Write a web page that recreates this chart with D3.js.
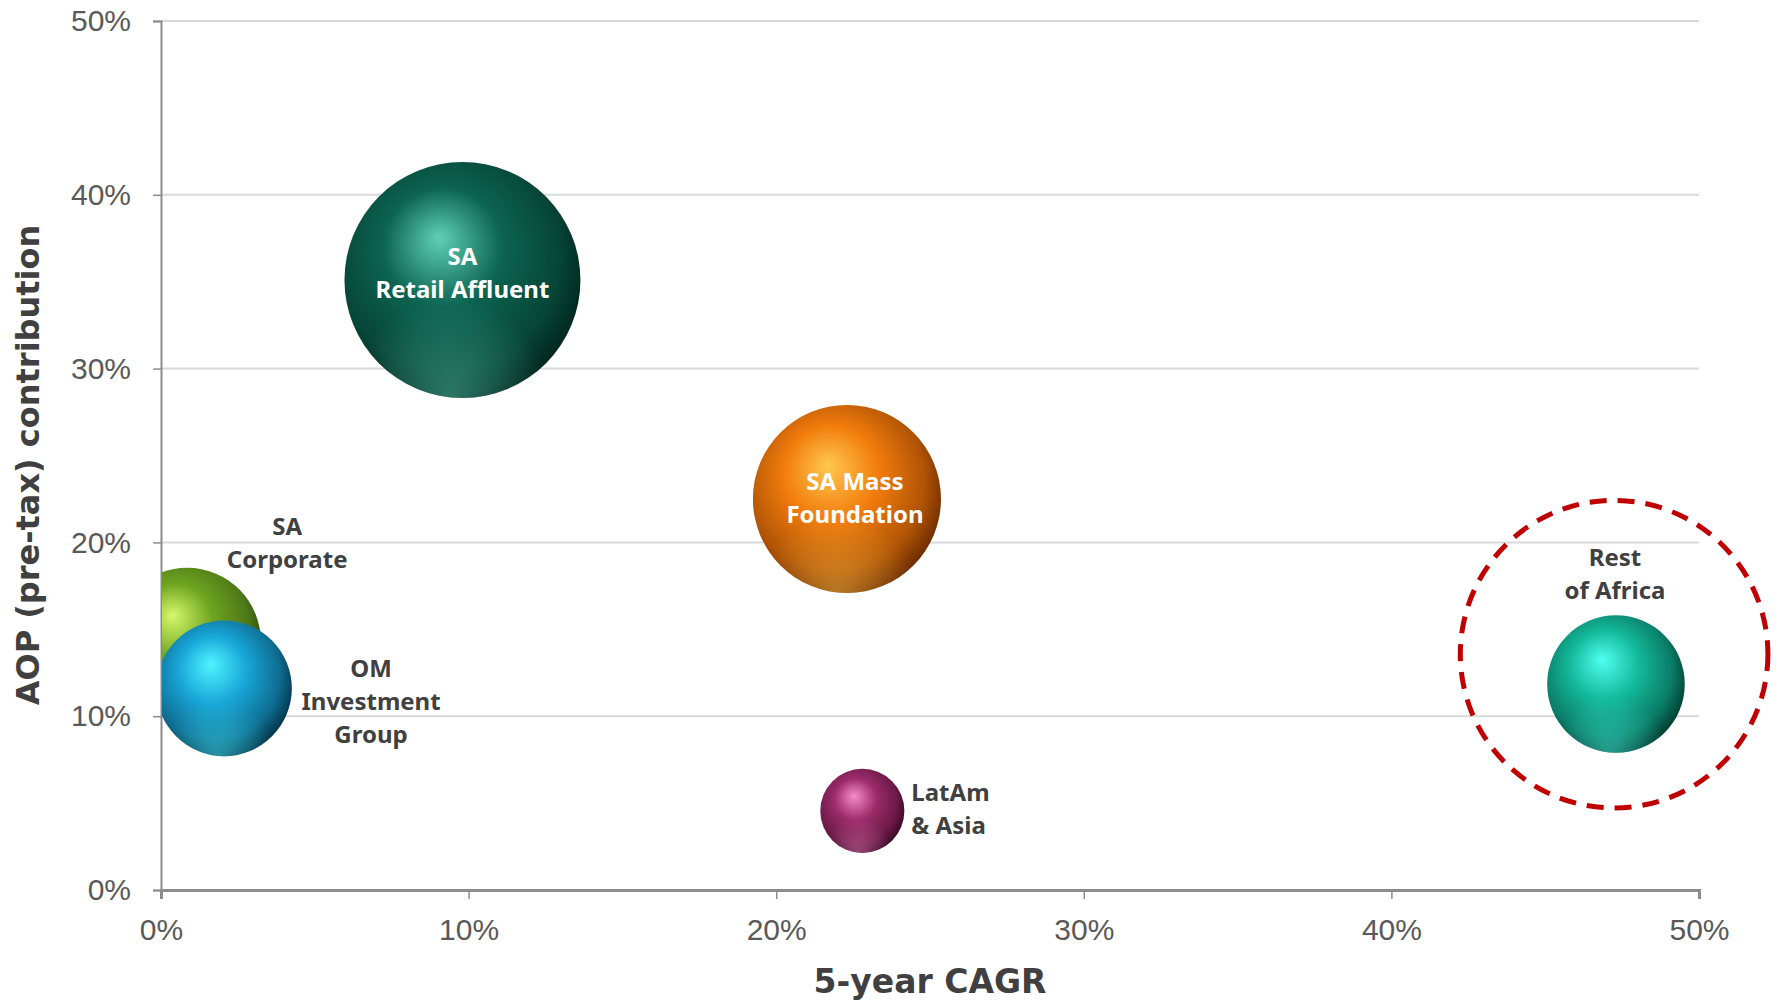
<!DOCTYPE html>
<html>
<head>
<meta charset="utf-8">
<script src="https://cdn.jsdelivr.net/npm/d3@7"></script>
<style>
  html, body { margin: 0; padding: 0; background: #fff; }
  svg { display: block; }
</style>
</head>
<body>
<div id="chart"></div>
<script>
// chart data
var segments = ["SA Retail Affluent", "SA Mass Foundation", "SA Corporate", "OM Investment Group", "LatAm & Asia", "Rest of Africa"];
var cagr = [9.8, 22.3, 0.85, 2.05, 22.8, 47.3];          // 5-year CAGR (%)
var aopShare = [35.1, 22.5, 14.3, 11.6, 4.55, 11.85];    // AOP (pre-tax) contribution (%)
var bubbleSize = [100, 63.5, 39, 33, 12.7, 34];
var labelLines = [["SA", "Retail Affluent"], ["SA Mass", "Foundation"], ["SA", "Corporate"],
                  ["OM", "Investment", "Group"], ["LatAm", "& Asia"], ["Rest", "of Africa"]];
var xTicks = [0, 10, 20, 30, 40, 50];
var yTicks = [0, 10, 20, 30, 40, 50];
// dashed ring around Rest of Africa (centre in data units, radius in x units)
var ringCentre = [47.24, 13.57];
var ringRadius = 5.0;

// styling
var sphereColors = [
    {light: "#5fd0b6", base: "#0c6451", dark: "#01261d"},
    {light: "#ffc84e", base: "#f27c0c", dark: "#6e2c00"},
    {light: "#d6f86a", base: "#6fa521", dark: "#2c4c0c"},
    {light: "#4ff4ff", base: "#18a6d8", dark: "#03344a"},
    {light: "#f58bc8", base: "#9c2b6a", dark: "#3a0826"},
    {light: "#4ffff0", base: "#13b99b", dark: "#013d31"}
];
// label placement relative to bubble centre (px): dx, dy of first line, anchor, colour
var labelPlace = [
    {dx: 0, dy: -23, anchor: "middle", fill: "#ffffff"},
    {dx: 8, dy: -17, anchor: "middle", fill: "#ffffff"},
    {dx: 100, dy: -115, anchor: "middle", fill: "#404040"},
    {dx: 147, dy: -20, anchor: "middle", fill: "#404040"},
    {dx: 49, dy: -18, anchor: "start", fill: "#404040"},
    {dx: -1, dy: -126, anchor: "middle", fill: "#404040"}
];

var W = 1778, H = 1005;
var margin = {top: 21, right: 79, bottom: 115, left: 161},
    width = W - margin.left - margin.right,
    height = H - margin.top - margin.bottom;

var svg = d3.select("#chart").append("svg")
    .attr("width", W)
    .attr("height", H);

var defs = svg.append("defs");

var g = svg.append("g")
    .attr("transform", "translate(" + margin.left + "," + margin.top + ")");

var x = d3.scaleLinear().domain([0, 50]).range([0, width]);
var y = d3.scaleLinear().domain([0, 50]).range([height, 0]);
var r = d3.scaleSqrt().domain([0, d3.max(bubbleSize)]).range([0, 118]);

var tickFont = "'Liberation Sans', Arial, sans-serif";

// gridlines
g.append("g")
    .selectAll("line")
    .data(yTicks.filter(function(d) { return d > 0; }))
    .enter().append("line")
    .attr("x1", 0)
    .attr("x2", width)
    .attr("y1", function(d) { return y(d); })
    .attr("y2", function(d) { return y(d); })
    .attr("stroke", "#d9d9d9")
    .attr("stroke-width", 2);

// y axis
var yAxis = g.append("g")
    .call(d3.axisLeft(y).tickValues(yTicks).tickSize(8).tickPadding(22)
        .tickFormat(function(d) { return d + "%"; }));
yAxis.select(".domain").attr("stroke", "#8c8c8c").attr("stroke-width", 2);
yAxis.selectAll(".tick line").attr("stroke", "#8c8c8c").attr("stroke-width", 1.5);
yAxis.selectAll("text")
    .attr("fill", "#595959")
    .style("font-family", tickFont)
    .style("font-size", "30px");

// x axis
var xAxis = g.append("g")
    .attr("transform", "translate(0," + height + ")")
    .call(d3.axisBottom(x).tickValues(xTicks).tickSize(9).tickPadding(20)
        .tickFormat(function(d) { return d + "%"; }));
xAxis.select(".domain").attr("stroke", "#8c8c8c").attr("stroke-width", 3);
xAxis.selectAll(".tick line").attr("stroke", "#8c8c8c").attr("stroke-width", 1.5);
xAxis.selectAll("text")
    .attr("fill", "#595959")
    .style("font-family", tickFont)
    .style("font-size", "30px");

// axis titles
svg.append("text")
    .attr("x", margin.left + width / 2)
    .attr("y", 981)
    .attr("dy", "0.35em")
    .attr("text-anchor", "middle")
    .attr("fill", "#404040")
    .style("font-family", "'DejaVu Sans', sans-serif")
    .style("font-weight", "bold")
    .style("font-size", "33px")
    .text("5-year CAGR");

svg.append("text")
    .attr("transform", "translate(28,465) rotate(-90)")
    .attr("dy", "0.35em")
    .attr("text-anchor", "middle")
    .attr("fill", "#404040")
    .style("font-family", "'DejaVu Sans', sans-serif")
    .style("font-weight", "bold")
    .style("font-size", "32px")
    .text("AOP (pre-tax) contribution");

// sphere gradients: body shading plus a faint coloured reflection along the lower rim
sphereColors.forEach(function(c, i) {
    var grad = defs.append("radialGradient")
        .attr("id", "sphere" + i)
        .attr("cx", "44%").attr("cy", "42%").attr("r", "60%")
        .attr("fx", "40%").attr("fy", "32%");
    grad.append("stop").attr("offset", "0%").attr("stop-color", c.light);
    grad.append("stop").attr("offset", "42%").attr("stop-color", c.base);
    grad.append("stop").attr("offset", "80%").attr("stop-color", d3.interpolateRgb(c.base, c.dark)(0.5));
    grad.append("stop").attr("offset", "100%").attr("stop-color", c.dark);

    var rim = defs.append("radialGradient")
        .attr("id", "rim" + i)
        .attr("cx", "45%").attr("cy", "100%").attr("r", "42%");
    rim.append("stop").attr("offset", "0%").attr("stop-color", c.light).attr("stop-opacity", 0.45);
    rim.append("stop").attr("offset", "100%").attr("stop-color", c.light).attr("stop-opacity", 0);
});

defs.append("clipPath").attr("id", "plotClip")
    .append("rect")
    .attr("x", 1).attr("y", -margin.top)
    .attr("width", width + margin.right).attr("height", height + margin.top - 2);

var data = segments.map(function(name, i) {
    return {name: name, x: cagr[i], y: aopShare[i], size: bubbleSize[i], lines: labelLines[i], i: i};
});

var bubbles = g.append("g")
    .attr("clip-path", "url(#plotClip)")
    .selectAll("g")
    .data(data)
    .enter().append("g")
    .attr("transform", function(d) { return "translate(" + x(d.x) + "," + y(d.y) + ")"; });

bubbles.append("circle")
    .attr("r", function(d) { return r(d.size); })
    .attr("fill", function(d) { return "url(#sphere" + d.i + ")"; });

bubbles.append("circle")
    .attr("r", function(d) { return r(d.size); })
    .attr("fill", function(d) { return "url(#rim" + d.i + ")"; });

// dashed highlight ring
g.append("circle")
    .attr("cx", x(ringCentre[0]))
    .attr("cy", y(ringCentre[1]))
    .attr("r", x(ringRadius) - x(0))
    .attr("fill", "none")
    .attr("stroke", "#c00000")
    .attr("stroke-width", 5)
    .attr("stroke-dasharray", "17,11");

// labels
var labels = g.append("g")
    .selectAll("text")
    .data(data)
    .enter().append("text")
    .attr("text-anchor", function(d) { return labelPlace[d.i].anchor; })
    .attr("fill", function(d) { return labelPlace[d.i].fill; })
    .style("font-family", "'Noto Sans', 'Open Sans', sans-serif")
    .style("font-weight", "bold")
    .style("font-size", "24px");

labels.selectAll("tspan")
    .data(function(d) {
        return d.lines.map(function(t, k) { return {text: t, k: k, d: d}; });
    })
    .enter().append("tspan")
    .attr("x", function(t) { return x(t.d.x) + labelPlace[t.d.i].dx; })
    .attr("y", function(t) { return y(t.d.y) + labelPlace[t.d.i].dy + t.k * 33; })
    .attr("dy", "0.35em")
    .text(function(t) { return t.text; });
</script>
</body>
</html>
